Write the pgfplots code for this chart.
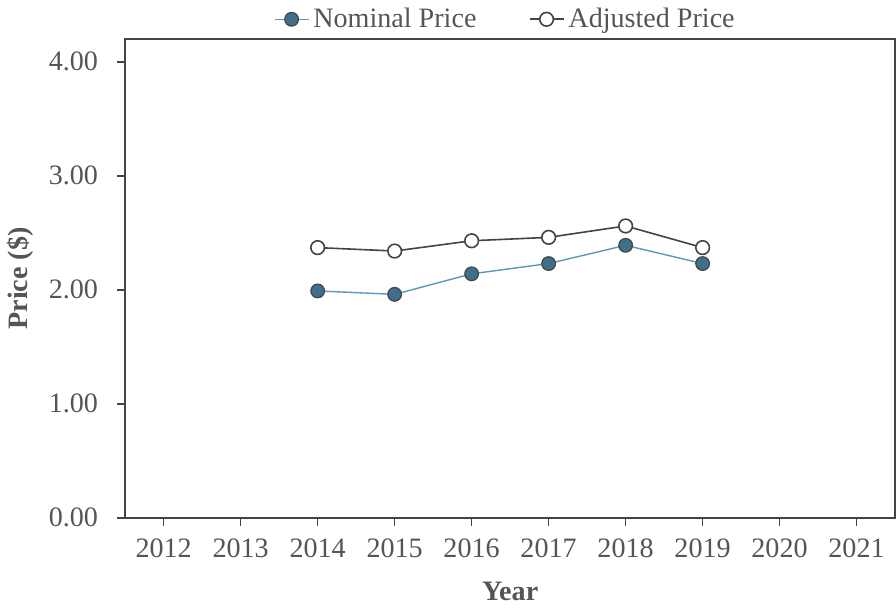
\documentclass[border=0pt]{standalone}
\usepackage{pgfplots}
\pgfplotsset{compat=1.18}
\usepackage{fontspec}
\setmainfont{Liberation Serif}

\definecolor{nomfill}{HTML}{3F6F8A}
\definecolor{nomline}{HTML}{5B98BE}
\definecolor{axgray}{HTML}{444444}
\definecolor{txtgray}{HTML}{555555}

\begin{document}
\begin{tikzpicture}
\begin{axis}[
  scale only axis,
  width=383.5pt, height=238.5pt,
  xmin=2011.5, xmax=2021.5,
  ymin=0, ymax=4.2,
  xtick={2012,...,2021},
  ytick={0,1,2,3,4},
  xticklabel style={font=\fontsize{14}{16}\selectfont, yshift=-3pt,
    /pgf/number format/1000 sep={}},
  yticklabel style={font=\fontsize{14}{16}\selectfont, xshift=-6pt,
    /pgf/number format/fixed, /pgf/number format/fixed zerofill,
    /pgf/number format/precision=2},
  /pgf/number format/assume math mode=true,
  tick align=outside,
  xtick pos=bottom, ytick pos=left,
  major tick length=4pt,
  tick style={axgray, line width=0.8pt},
  axis line style={axgray, line width=0.9pt},
  ticklabel style={text=txtgray},
  xlabel={\textbf{Year}},
  ylabel={\textbf{Price (\$)}},
  label style={font=\fontsize{14}{16}\selectfont, text=txtgray},
  xlabel style={yshift=-5pt},
  ylabel style={yshift=1pt},
  legend style={draw=none, fill=none, at={(0.495,1.0)}, anchor=south,
    legend columns=2, font=\fontsize{14}{16}\selectfont, text=txtgray,
    /tikz/every even column/.append style={column sep=24pt}},
  legend cell align=left,
  legend image code/.code={
    \draw[#1] (0pt,0pt) -- (17pt,0pt);
    \draw[#1, only marks] plot coordinates {(8.5pt,0pt)};
  },
]
\addplot[nomline, line width=0.7pt, mark=*, mark size=3.4pt,
  mark options={fill=nomfill, draw=axgray, line width=0.6pt}]
  coordinates {(2014,1.99) (2015,1.96) (2016,2.14) (2017,2.23) (2018,2.39) (2019,2.23)};
\addlegendentry{Nominal Price}
\addplot[axgray, line width=0.8pt, mark=*, mark size=3.4pt,
  mark options={fill=white, draw=axgray, line width=0.8pt}]
  coordinates {(2014,2.37) (2015,2.34) (2016,2.43) (2017,2.46) (2018,2.56) (2019,2.37)};
\addlegendentry{Adjusted Price}
\end{axis}
\end{tikzpicture}
\end{document}
